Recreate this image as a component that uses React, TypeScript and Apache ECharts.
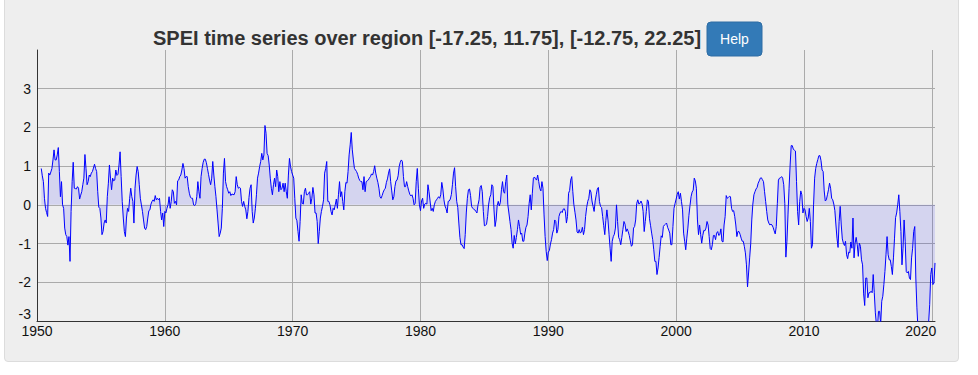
import React, { useEffect, useRef } from "react";
import * as echarts from "echarts";

const TITLE = "SPEI time series over region [-17.25, 11.75], [-12.75, 22.25]";
const START_YEAR = 1950;
const START_MONTH_INDEX = 4; // first value: May 1950
const X_MIN = 1950;
const X_TICK_STEP = 10;
const X_LAST_LABEL = 2020;
const Y_MIN = -3;
const Y_MAX = 4;

// Monthly SPEI values
const seg01 = [0.94, 0.75, 0.6, 0.17, -0.09, -0.2, -0.3, 0.82, 0.77, 0.85,
  0.94, 1.16, 1.42, 1.16, 1.16, 1.29, 1.48, 0.86, 0.21, 0.6,
  0, -0.09, -0.6, -0.77, -0.82, -1.04, -0.82, -1.46, -0.17, 0.6,
  1.1, 0.43, 0.42, 0.41, 0.47, 0.43, 0.15, 0.25, 0.34, 0.52,
  0.69, 1.3, 0.94, 0.52, 0.6, 0.77, 0.73, 0.82, 0.86, 0.95,
  1.05, 0.94, 0.86, 0.34, -0.06, -0.09, -0.34, -0.77, -0.69, -0.47,
  -0.39, -0.47, 0.21, 0.56, 1.03, 0.69, 0.39];
const seg02 = [0.69, 0.62, 0.64, 0.9, 0.76, 0.79, 1.03, 1.37, 0.73, 0.09,
  -0.34, -0.69, -0.82, -0.34, -0.09, -0.17, 0.17, 0.43, 0.21, 0.09,
  -0.47, 0.43, 0.77, 0.99, 0.86, 0.52, 0.17, 0, -0.17, -0.39,
  -0.6, -0.64, -0.56, -0.34, -0.15, -0.13, 0.02, 0.09, 0.13, 0.09,
  0.24, 0.13, 0.17, 0.13, 0.17, -0.17, -0.39, -0.21, -0.56, -0.17,
  -0.21, -0.09, 0, 0.21, -0.09, 0.09, 0.39, 0.34, 0.04, 0.09,
  0, 0.62, 0.64, 0.73, 0.77, 0.9, 1.07, 0.94, 0.69, 0.73];
const seg03 = [0.73, 0.47, 0.3, 0.2, 0.17, 0.17, 0, -0.02, 0.03, 0.21,
  0.6, 0.34, 0.17, 0.73, 0.94, 1.1, 1.18, 1.18, 1.09, 0.94,
  0.79, 0.64, 0.52, 0.69, 1.12, 0.77, 0.47, 0.21, -0.13, -0.47,
  -0.82, -0.73, -0.6, -0.09, 0.82, 1.2, 0.6, 0.47, 0.39, 0.3,
  0.34, 0.24, 0.28, 0.27, 0.26, 0.34, 0.73, 0.52, 0.43, 0.45, 0.43,
  0.09, -0.04, 0.09, -0.04, -0.13, -0.36, -0.17, 0.19, 0.43, 0.52,
  -0.17, -0.47, -0.34, -0.1, 0.26, 0.69, 0.82, 0.99, 1.12, 1.33];
const seg04 = [1.16, 1.29, 2.05, 1.85, 1.33, 1.27, 1.03, 0.69, 0.43, 0.26,
  0.52, 0.69, 0.47, 0.9, 0.73, 0.34, 0.6, 0.39, 0.43, 0.56,
  0.34, 0.56, 0.34, 0.17, 0.77, 1.2, 0.99, 0.86, 0.77, 0.69,
  0.17, -0.34, -0.41, -0.69, -0.94, -0.43, 0.26, 0.04, 0.02, 0.34,
  0.43, 0.26, 0.26, 0.3, 0.34, 0.02, 0.17, 0.45, 0.26, -0.21,
  -0.21, -0.43, -1.0, -0.69, -0.34, -0.17, -0.04, 0.13, 0.82, 0.94,
  1.12, 0.09, 0.09, 0, -0.17, -0.26, -0.09, -0.13, 0, 0.15];
const seg05 = [-0.09, 0.26, 0.6, 0.21, 0.34, 0.09, -0.13, 0.34, 0.58, 0.56,
  0.86, 1.29, 1.55, 1.87, 1.42, 1.16, 0.94, 0.9, 0.86, 0.79,
  0.69, 0.63, 0.6, 0.6, 0.39, 0.73, 0.34, 0.6, 0.62, 0.64,
  0.69, 0.73, 0.8, 0.77, 0.86, 1.01, 0.82, 0.69, 0.58, 0.43,
  0.21, 0.17, 0.24, 0.33, 0.39, 0.43, 0.58, 0.67, 0.82, 0.93,
  0.6, 0.36, 0.13, 0.21, 0.47, 0.62, 0.64, 0.75, 0.99, 1.1,
  1.16, 1.12, 0.73, 0.47, 0.47, 0.6, 0.47, 0.36, 0.27, 0.23];
const seg06 = [0.26, 0.17, 0, 0.04, 0.6, 0.94, 0.43, 0, -0.15, 0.1,
  0.17, -0.09, 0.02, 0.04, 0.02, 0.52, 0.34, 0.1, -0.15, -0.09,
  -0.17, 0, 0.09, 0.13, 0.17, 0.21, 0.17, 0.26, 0.58, 0.41, 0.13,
  -0.03, -0.1, -0.21, 0.09, 0.1, 0.15, 0.27, 0.52, 0.82, 0.96,
  0.47, 0.09, -0.07, -0.47, -0.84, -1.03, -1.03, -1.09, -1.13, -0.77,
  -0.21, 0.17, 0.39, 0.41, 0.24, -0.04, -0.09, -0.11, -0.13, -0.17,
  -0.21, 0, 0.13, 0.45, 0.5, 0.34, -0.17, -0.54, -0.53, -0.5];
const seg07 = [-0.3, 0.02, 0.19, 0.26, 0.52, 0.47, -0.13, -0.56, -0.39, -0.02,
  0.09, -0.03, 0.07, 0.39, 0.6, 0.34, 0.3, 0.6, 0.77, 0,
  -0.21, -0.43, -0.64, -0.99, -1.12, -0.79, -1.01, -0.84, -0.64, -0.39,
  -0.56, -0.76, -0.73, -0.94, -0.94, -0.73, -0.58, -0.52, -0.3, 0.04,
  0.26, -0.13, 0.3, 0.69, 0.72, 0.67, 0.64, 0.77, 0.6, 0.43,
  0.36, 0.6, 0.43, -0.26, -0.82, -1.2, -1.44, -1.22, -1.18, -1.01,
  -0.9, -0.73, -0.64, -0.39, -0.43, -0.73, -0.64, -0.3, -0.21, -0.17];
const seg08 = [-0.2, -0.11, -0.1, -0.17, -0.47, -0.3, 0.3, 0.37, 0.64, 0.73,
  0.34, 0, -0.19, -0.39, -0.7, -0.73, -0.64, -0.73, -0.7, -0.58,
  -0.77, -0.64, -0.3, -0.07, 0.09, 0.17, 0.39, 0.33, 0.1, -0.04,
  -0.17, 0.1, 0.26, 0.41, 0.45, 0.09, -0.04, -0.07, -0.3, -0.54,
  -0.77, -0.41, -0.13, -0.39, -0.76, -1.12, -1.46, -0.94, -0.82, -0.76,
  -0.6, 0, -0.43, -0.84, -0.9, -1.03, -0.84, -0.64, -0.43, -0.5,
  -0.69, -0.62, -0.69, -0.79, -0.93, -1.07, -1.03, -0.6, -0.56, -0.39];
const seg09 = [0.04, 0.13, 0.02, 0.04, 0.1, 0.03, -0.17, -0.69, -0.43, -0.17,
  0.13, 0.09, -0.36, -0.54, -0.73, -0.9, -1.16, -1.46, -1.46, -1.8,
  -1.63, -1.36, -1.07, -0.8, -0.84, -0.56, -0.52, -0.5, -0.47, -0.58, -0.65,
  -0.73, -1.03, -1.03, -0.56, -0.09, 0.04, 0.15, 0.27, 0.34, 0.15,
  0.3, 0.09, -0.13, -0.73, -0.94, -1.16, -0.86, -0.6, -0.27, -0.02,
  0.21, 0.33, 0.38, 0.69, 0.62, 0.43, -0.39, -0.77, -0.52, -0.77,
  -0.99, -0.79, -0.66, -0.67, -0.6, -0.43, -0.52, -0.82, -1.13, -1.16];
const seg10 = [-1.03, -0.79, -0.79, -0.9, -0.73, -0.69, -0.79, -0.77, -0.62, -0.94,
  -0.96, -0.52, -0.3, 0.24, 0.17, 0.19, 0.22, 0.21, -0.09, -0.17,
  -0.15, -0.3, -0.52, -0.82, -0.69, -0.69, -0.76, -0.86, -0.94, -0.94,
  -1.07, -1.24, -1.55, -2.12, -1.76, -1.37, -1.01, -0.39, 0.02, 0.26,
  0.34, 0.41, 0.45, 0.56, 0.62, 0.69, 0.7, 0.65, 0.6, 0.34,
  0.09, -0.17, -0.39, -0.47, -0.52, -0.5, -0.52, -0.58, -0.67, -0.75,
  -0.56, 0.04, 0.64, 0.69, 0.7, 0.73, 0.69, 0.52, 0.04, -1.35];
const seg11 = [-0.94, -0.26, 0.43, 1.03, 1.53, 1.53, 1.44, 1.41, 1.39, 0.6,
  -0.17, -0.52, 0.09, 0.36, 0.26, -0.21, -0.09, -0.13, -0.3, -0.43,
  -0.34, -0.09, -0.43, -1.12, -1.03, 0, 0.69, 0.94, 1.07, 1.17, 1.27,
  1.27, 1.14, 0.9, 0.86, 0.36, 0.1, 0.13, 0.26, 0.39, 0.56,
  0.43, 0.17, 0.13, 0.02, -0.15, -0.52, -0.86, -1.1, -0.43, -0.04,
  -0.52, -0.88, -0.99, -1.05, -0.94, -1.29, -1.39, -1.22, -1.24, -0.96,
  -1.12, -0.34, -1.37, -0.99, -0.84, -1.03, -1.33, -0.99, -1.07, -1.42];
const seg12 = [-1.55, -2.3, -2.6, -1.89, -1.89, -2.4, -2.27, -2.27, -2.23, -2.27,
  -1.8, -2.27, -2.79, -3.09, -3.18, -2.75, -2.75, -3.09, -2.49, -2.36,
  -2.06, -1.72, -1.29, -0.82, -1.29, -1.42, -1.42, -1.59, -1.8, -1.37,
  -0.86, -0.33, -0.21, 0, 0.26, -0.17, -0.69, -1.55, -1.12, -0.39,
  -0.94, -1.72, -1.76, -1.72, -1.89, -1.93, -1.37, -1.12, -0.69, -0.56,
  -1.89, -2.66, -3.18, -3.35, -3.43, -3.52, -3.43, -3.35, -3.43, -3.39,
  -3.26, -3.13, -3.05, -2.58, -1.8, -1.63, -2.06, -2.02, -1.5];

const FONT = "'Liberation Sans', Arial, Helvetica, sans-serif";

export default function App() {
  const ref = useRef<HTMLDivElement>(null);

  useEffect(() => {
    document.body.style.margin = "0";
    const el = ref.current;
    if (!el) return;
    const chart = echarts.init(el, undefined, { renderer: "svg" });

    const values = [
      ...seg01, ...seg02, ...seg03, ...seg04, ...seg05, ...seg06,
      ...seg07, ...seg08, ...seg09, ...seg10, ...seg11, ...seg12,
    ];
    const data = values.map((v, i) => [START_YEAR + (START_MONTH_INDEX + i) / 12, v]);
    const xMax = data[data.length - 1][0];

    chart.setOption({
      animation: false,
      backgroundColor: "transparent",
      textStyle: { fontFamily: FONT },
      title: {
        text: TITLE,
        left: 148,
        top: 23,
        textStyle: { fontSize: 20, fontWeight: "bold", color: "#333", fontFamily: FONT },
      },
      graphic: [
        {
          type: "rect",
          shape: { x: 707, y: 22, width: 55, height: 34, r: 4 },
          style: { fill: "#337ab7", stroke: "#2e6da4", lineWidth: 1 },
        },
        {
          type: "text",
          x: 734.5,
          y: 39,
          style: {
            text: "Help",
            fill: "#ffffff",
            font: `14px ${FONT}`,
            align: "center",
            verticalAlign: "middle",
          },
        },
      ],
      grid: { left: 37, right: 43, top: 50, bottom: 54 },
      xAxis: {
        type: "value",
        min: X_MIN,
        max: xMax,
        interval: X_TICK_STEP,
        axisLine: { show: true, onZero: false, lineStyle: { color: "#333", width: 1 } },
        axisTick: { show: false },
        axisLabel: {
          color: "#111",
          fontSize: 14,
          margin: 3,
          fontFamily: FONT,
          formatter: (v: number) => {
            if (Math.abs(v % 10) > 1e-6) return "";
            const s = String(Math.round(v));
            return Math.round(v) === X_LAST_LABEL ? "{last|" + s + "}" : s;
          },
          rich: { last: { fontSize: 14, color: "#111", fontFamily: FONT, padding: [0, 22, 0, 0] } },
        },
        splitLine: { show: true, showMinLine: false, showMaxLine: false, lineStyle: { color: "#aaa", width: 1 } },
      },
      yAxis: {
        type: "value",
        min: Y_MIN,
        max: Y_MAX,
        interval: 1,
        axisLine: { show: true, onZero: false, lineStyle: { color: "#333", width: 1 } },
        axisTick: { show: false },
        axisLabel: {
          color: "#111",
          fontSize: 14,
          margin: 6,
          fontFamily: FONT,
          formatter: (v: number) => (v === Y_MAX ? "" : v === Y_MIN ? "{low|" + v + "}" : String(v)),
          rich: { low: { fontSize: 14, color: "#111", fontFamily: FONT, padding: [0, 0, 14, 0] } },
        },
        splitLine: { show: true, showMinLine: false, showMaxLine: false, lineStyle: { color: "#aaa", width: 1 } },
      },
      series: [
        {
          type: "line",
          data,
          showSymbol: false,
          symbol: "none",
          silent: true,
          clip: true,
          lineStyle: { color: "#0000ff", width: 1 },
          areaStyle: { color: "rgba(0,0,255,0.15)", origin: 0 },
        },
      ],
    });

    return () => chart.dispose();
  }, []);

  return (
    <div style={{ position: "relative", width: 978, height: 375, background: "#fff", overflow: "hidden" }}>
      <div
        style={{
          position: "absolute",
          left: 4,
          top: -10,
          width: 955,
          height: 372,
          background: "#eeeeee",
          border: "1px solid #dcdcdc",
          borderRadius: 4,
          boxSizing: "border-box",
        }}
      />
      <div ref={ref} style={{ position: "absolute", left: 0, top: 0, width: 978, height: 375 }} />
    </div>
  );
}
